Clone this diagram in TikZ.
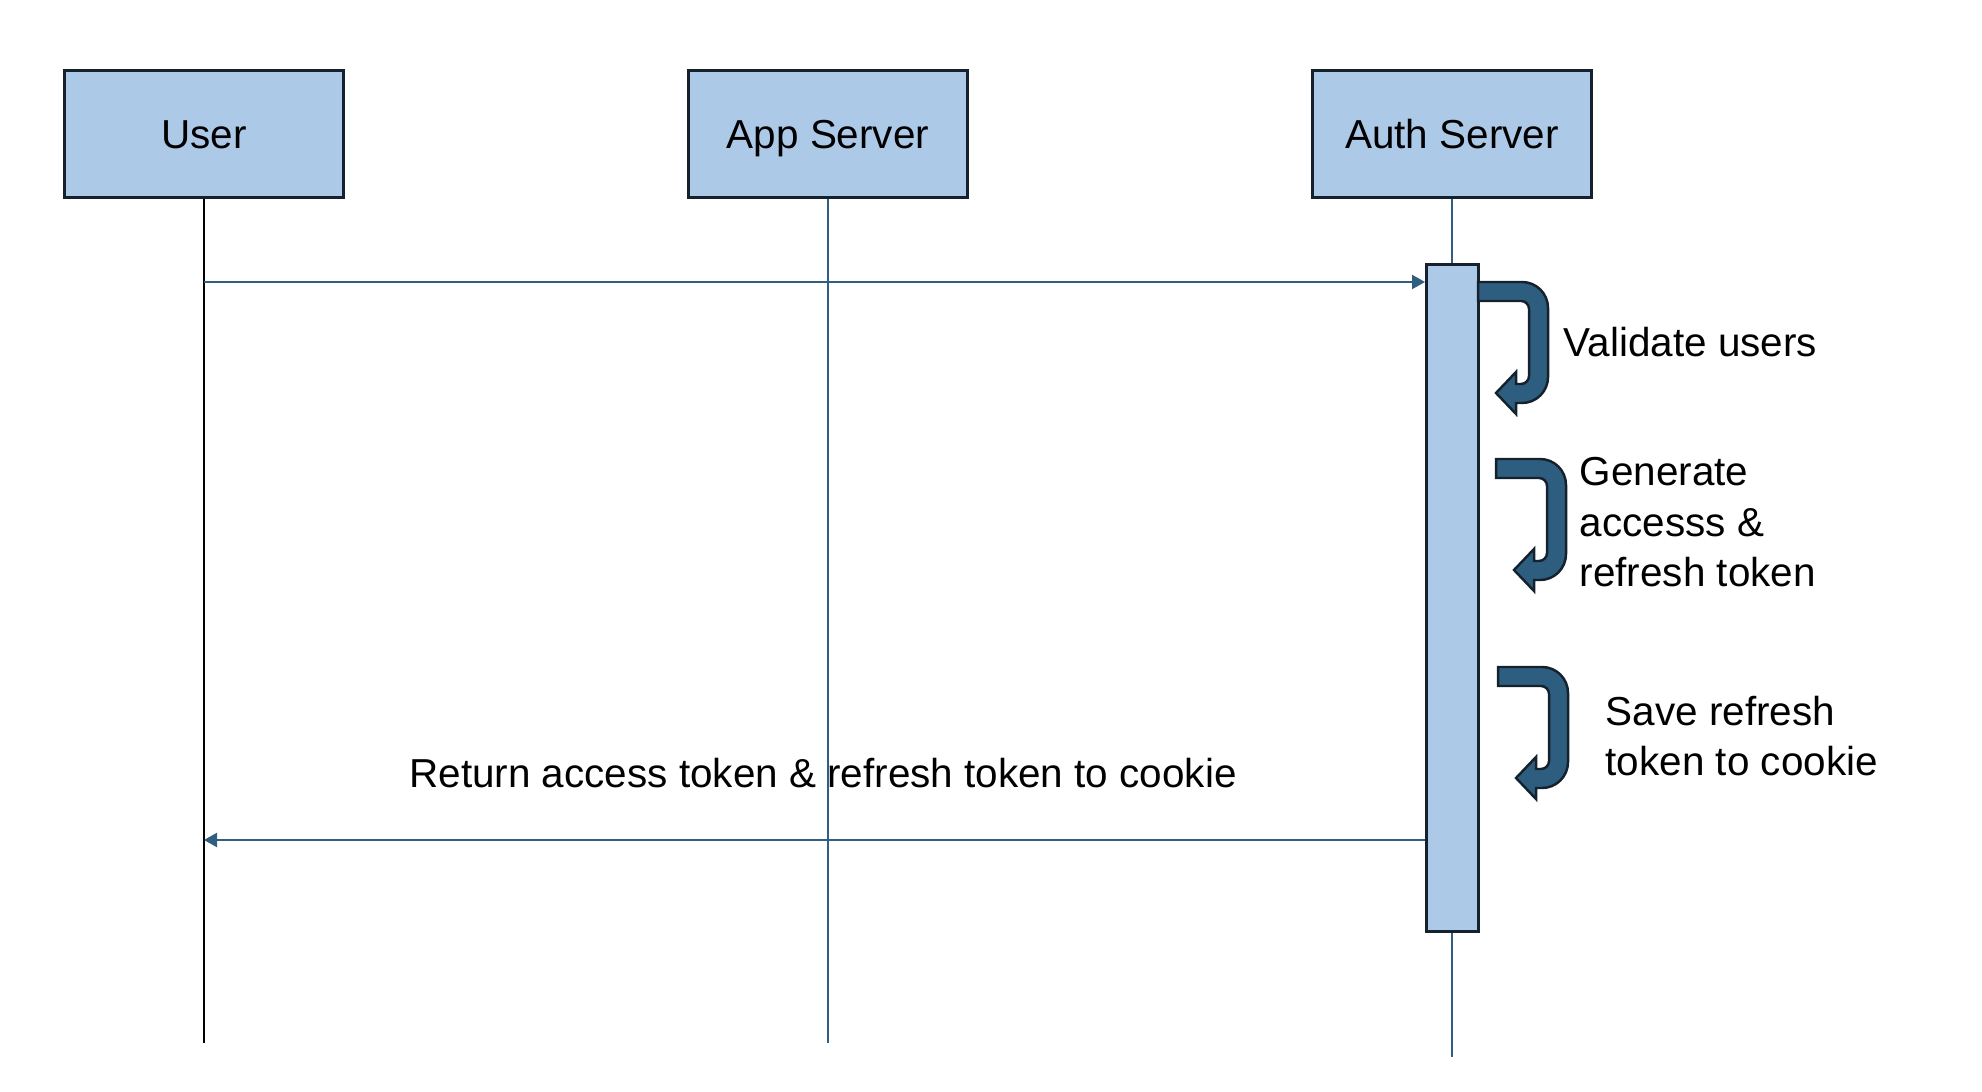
\documentclass[tikz,border=0pt]{standalone}
\usepackage{fontspec}
\setmainfont{Liberation Sans}
\usepackage{tikz}
\usetikzlibrary{arrows.meta, positioning}
\usepackage{xcolor}
\definecolor{boxblue}{HTML}{ADC9E8}
\definecolor{edgedark}{HTML}{15222E}
\definecolor{lineblue}{HTML}{2F5F80}
\definecolor{turnblue}{HTML}{2E5E7F}

\begin{document}
\begin{tikzpicture}[
  x=0.01cm, y=-0.01cm,
  font=\fontsize{11.5}{14.4}\selectfont,
  actor/.style={draw=edgedark, line width=0.85pt, fill=boxblue,
                minimum width=2.79cm, minimum height=1.27cm,
                text height=8.2pt, text depth=0pt},
  bar/.style={draw=edgedark, line width=0.85pt, fill=boxblue,
              minimum width=0.52cm, minimum height=6.67cm, inner sep=0pt},
  life/.style={draw=lineblue, line width=0.6pt},
  msg/.style={draw=lineblue, line width=0.6pt, -{Triangle[length=3.7pt, width=4pt]}},
  note/.style={align=left, inner sep=0pt},
  turn/.style={fill=turnblue, draw=edgedark, line width=0.7pt, line join=miter}
]
\useasboundingbox (0,0) rectangle (1982,1092);

%% Participants
\node[actor] (user) at (204,134)  {User};
\node[actor] (app)  at (828,134)  {App Server};
\node[actor] (auth) at (1452,134) {Auth Server};

%% Lifelines
\coordinate (user_end) at (204,1043);
\coordinate (app_end)  at (828,1043);
\coordinate (auth_end) at (1452,1057);
\draw[life, draw=black, line width=0.75pt] (user) -- (user_end);
\draw[life] (app) -- (app_end);
\draw[life] (auth) -- (auth_end);

%% Activation on the auth server
\node[bar] (act) at (1452.5,598) {};

%% Messages
\coordinate (req) at (204,282);
\coordinate (ret) at (204,840);
\draw[msg] (req) -- (req -| act.west);
\draw[msg] (ret -| act.west) -- (ret);
\node[anchor=base] (ret_lbl) at (823,788) {Return access token \& refresh token to cookie};

%% Self calls
\foreach \ox/\oy in {1478/282, 1496/459, 1498/667}
  \draw[turn, shift={(\ox,\oy)}]
    (0,0) -- (44,0) .. controls (58.4,0) and (70,11.6) .. (70,26)
    -- (70,95) .. controls (70,109.4) and (58.4,121) .. (44,121)
    -- (38,121) -- (38,132) -- (18,111) -- (38,90) -- (38,102)
    -- (43,102) .. controls (47.4,102) and (51,98.4) .. (51,94)
    -- (51,27) .. controls (51,22.6) and (47.4,19) .. (43,19)
    -- (0,19) -- cycle;

%% base of a multi-line note = baseline of its last line
\node[note, anchor=base west] (validate) at (1563,357) {Validate users};
\node[note, anchor=base west] (generate) at (1579,587) {Generate\\accesss \&\\refresh token};
\node[note, anchor=base west] (save)     at (1605,776) {Save refresh\\token to cookie};

\end{tikzpicture}
\end{document}
